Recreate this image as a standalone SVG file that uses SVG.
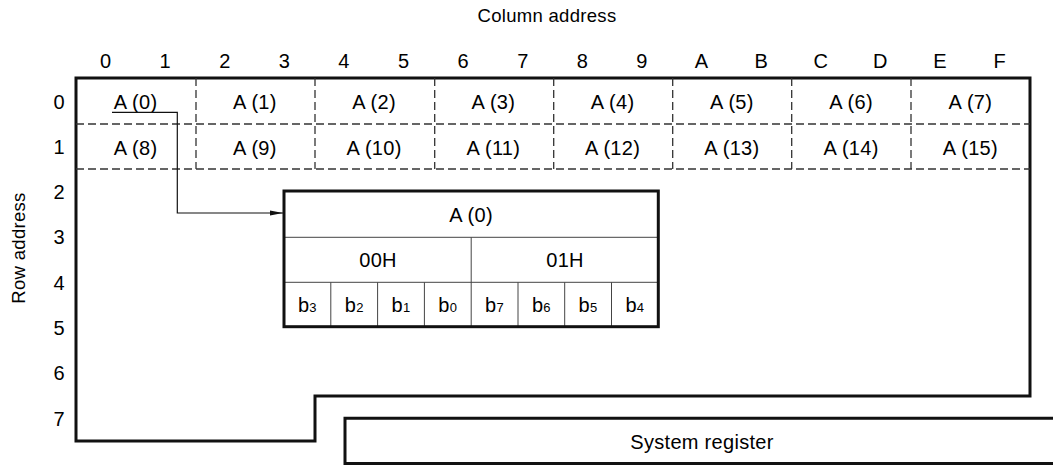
<svg xmlns="http://www.w3.org/2000/svg" width="1053" height="466" viewBox="0 0 1053 466">
<style>
text{font-family:"Liberation Sans",Arial,Helvetica,sans-serif;fill:#000;}
.t{font-size:20px;letter-spacing:0.3px;text-anchor:middle;}
.lbl{font-size:20px;text-anchor:middle;}
.thick{fill:none;stroke:#111;stroke-width:3;}
.dash{fill:none;stroke:#333;stroke-width:1.3;stroke-dasharray:8 4;}
.thin{fill:none;stroke:#444;stroke-width:1;}
.conn{fill:none;stroke:#111;stroke-width:1.2;}
.sub{font-size:13px;}
</style>
<defs>
<marker id="arr" markerWidth="14" markerHeight="8" refX="13" refY="4" orient="auto" markerUnits="userSpaceOnUse">
<path d="M0,1.5 L13,4 L0,6.5 Z" fill="#111"/>
</marker>
</defs>
<g id="axis-labels">
<text class="t" x="547" y="22" style="font-size:18.5px">Column address</text>
<text class="t" x="0" y="0" style="font-size:18.5px" transform="translate(25,248) rotate(-90)">Row address</text>
</g>
<g id="column-numbers">
<text class="lbl" x="105.5" y="68">0</text>
<text class="lbl" x="165.1" y="68">1</text>
<text class="lbl" x="224.7" y="68">2</text>
<text class="lbl" x="284.3" y="68">3</text>
<text class="lbl" x="343.9" y="68">4</text>
<text class="lbl" x="403.5" y="68">5</text>
<text class="lbl" x="463.1" y="68">6</text>
<text class="lbl" x="522.7" y="68">7</text>
<text class="lbl" x="582.3" y="68">8</text>
<text class="lbl" x="641.9" y="68">9</text>
<text class="lbl" x="701.5" y="68">A</text>
<text class="lbl" x="761.1" y="68">B</text>
<text class="lbl" x="820.7" y="68">C</text>
<text class="lbl" x="880.3" y="68">D</text>
<text class="lbl" x="939.9" y="68">E</text>
<text class="lbl" x="999.5" y="68">F</text>
</g>
<g id="row-numbers">
<text class="lbl" x="59" y="108.5">0</text>
<text class="lbl" x="59" y="153.8">1</text>
<text class="lbl" x="59" y="199.1">2</text>
<text class="lbl" x="59" y="244.4">3</text>
<text class="lbl" x="59" y="289.7">4</text>
<text class="lbl" x="59" y="335">5</text>
<text class="lbl" x="59" y="380.3">6</text>
<text class="lbl" x="59" y="425.6">7</text>
</g>
<g id="memory-area">
<path class="thick" d="M76,78 H1030 V396 H315 V441 H76 Z"/>
<path class="dash" d="M76,124 H1030 M76,169 H1030"/>
<path class="dash" d="M196,78 V169 M315,78 V169 M434.7,78 V169 M553.7,78 V169 M672.7,78 V169 M791.7,78 V169 M911,78 V169"/>
</g>
<g id="cells">
<text class="t" x="135.6" y="109">A (0)</text>
<text class="t" x="254.9" y="109">A (1)</text>
<text class="t" x="374.1" y="109">A (2)</text>
<text class="t" x="493.4" y="109">A (3)</text>
<text class="t" x="612.6" y="109">A (4)</text>
<text class="t" x="731.9" y="109">A (5)</text>
<text class="t" x="851.1" y="109">A (6)</text>
<text class="t" x="970.4" y="109">A (7)</text>
<text class="t" x="135.6" y="154.5">A (8)</text>
<text class="t" x="254.9" y="154.5">A (9)</text>
<text class="t" x="374.1" y="154.5">A (10)</text>
<text class="t" x="493.4" y="154.5">A (11)</text>
<text class="t" x="612.6" y="154.5">A (12)</text>
<text class="t" x="731.9" y="154.5">A (13)</text>
<text class="t" x="851.1" y="154.5">A (14)</text>
<text class="t" x="970.4" y="154.5">A (15)</text>
</g>
<g id="connectors">
<path class="conn" d="M112,112.3 H177.3 V213 H283" marker-end="url(#arr)"/>
</g>
<g id="a0-detail">
<path class="thin" d="M284,237.3 H658.3 M284,282.3 H658.3 M471.2,237.3 V326.7 M330.8,282.3 V326.7 M377.6,282.3 V326.7 M424.4,282.3 V326.7 M518,282.3 V326.7 M564.7,282.3 V326.7 M611.5,282.3 V326.7"/>
<rect class="thick" x="284" y="191" width="374.3" height="135.7"/>
<text class="t" x="471" y="222">A (0)</text>
<text class="t" x="378" y="267">00H</text>
<text class="t" x="565" y="267">01H</text>
<text class="t" x="307.4" y="312">b<tspan class="sub">3</tspan></text>
<text class="t" x="354.2" y="312">b<tspan class="sub">2</tspan></text>
<text class="t" x="401" y="312">b<tspan class="sub">1</tspan></text>
<text class="t" x="447.8" y="312">b<tspan class="sub">0</tspan></text>
<text class="t" x="494.6" y="312">b<tspan class="sub">7</tspan></text>
<text class="t" x="541.4" y="312">b<tspan class="sub">6</tspan></text>
<text class="t" x="588.1" y="312">b<tspan class="sub">5</tspan></text>
<text class="t" x="634.9" y="312">b<tspan class="sub">4</tspan></text>
</g>
<g id="system-register">
<path class="thick" d="M1056,418.3 H345 V463.5 H1056"/>
<text class="t" x="702" y="449">System register</text>
</g>
</svg>
